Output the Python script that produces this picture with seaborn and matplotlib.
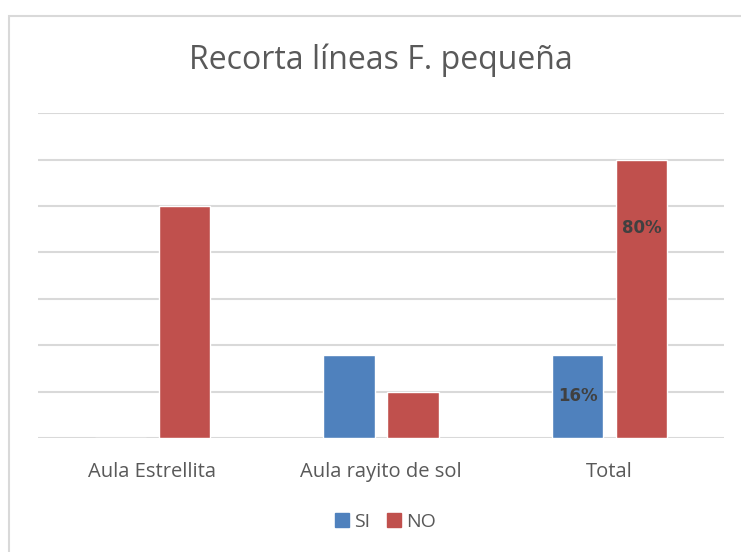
import matplotlib
matplotlib.use("Agg")
import matplotlib.pyplot as plt
import matplotlib.patches as mpatches
import seaborn as sns
import pandas as pd

# Data
categories = ["Aula Estrellita", "Aula rayito de sol", "Total"]
series = ["SI", "NO"]
si_values = [0.0, 1.8, 1.8]
no_values = [5.0, 1.0, 6.0]
total_labels = {"SI": "16%", "NO": "80%"}
colors = {"SI": "#4F81BD", "NO": "#C0504D"}
title = "Recorta líneas F. pequeña"

df = pd.DataFrame({
    "categoria": categories * 2,
    "respuesta": ["SI"] * len(categories) + ["NO"] * len(categories),
    "valor": si_values + no_values,
})

sns.set_theme(style="white")
plt.rcParams["font.family"] = ["Open Sans", "DejaVu Sans"]

fig = plt.figure(figsize=(7.41, 5.52), dpi=100)
ax = fig.add_axes([0.0513, 0.2065, 0.9257, 0.5882])

sns.barplot(data=df, x="categoria", y="valor", hue="respuesta",
            hue_order=series, palette=colors, order=categories,
            width=0.56, gap=0.2, saturation=1, ax=ax, legend=False)

ax.set_ylim(0, 7)
ax.set_yticks(range(0, 8))
ax.yaxis.grid(True, color="#D9D9D9", linewidth=1.5)
ax.set_axisbelow(True)
ax.tick_params(axis="y", left=False, labelleft=False)
ax.tick_params(axis="x", bottom=False, labelsize=14.5, colors="#595959", pad=11)
ax.set_xlabel("")
ax.set_ylabel("")
for s in ax.spines.values():
    s.set_visible(False)

# Data labels on the Total bars
for container, name in zip(ax.containers, series):
    bar = container.patches[2]
    xc = bar.get_x() + bar.get_width() / 2
    h = bar.get_height()
    y = h / 2 if name == "SI" else h - 1.47
    ax.text(xc, y, total_labels[name], ha="center", va="center",
            fontsize=12, fontweight="bold", color="#404040",
            family=["DejaVu Sans"])

fig.text(0.514, 0.89, title, ha="center", va="center",
         fontsize=23, color="#595959")

# Legend
handles = [mpatches.Patch(color=colors[s], label=s) for s in series]
fig.legend(handles=handles, loc="center", bbox_to_anchor=(0.52, 0.055),
           ncol=2, frameon=False, fontsize=14, handlelength=0.7,
           handleheight=0.7, handletextpad=0.25, columnspacing=0.9,
           labelcolor="#595959")

# Chart frame
fig.patches.append(mpatches.Rectangle((8.5 / 741, -0.05), 1.2, 1 - 15.5 / 552 + 0.05,
                                      transform=fig.transFigure, fill=False,
                                      edgecolor="#D9D9D9", linewidth=1.5))

fig.savefig("out.png", dpi=100)
